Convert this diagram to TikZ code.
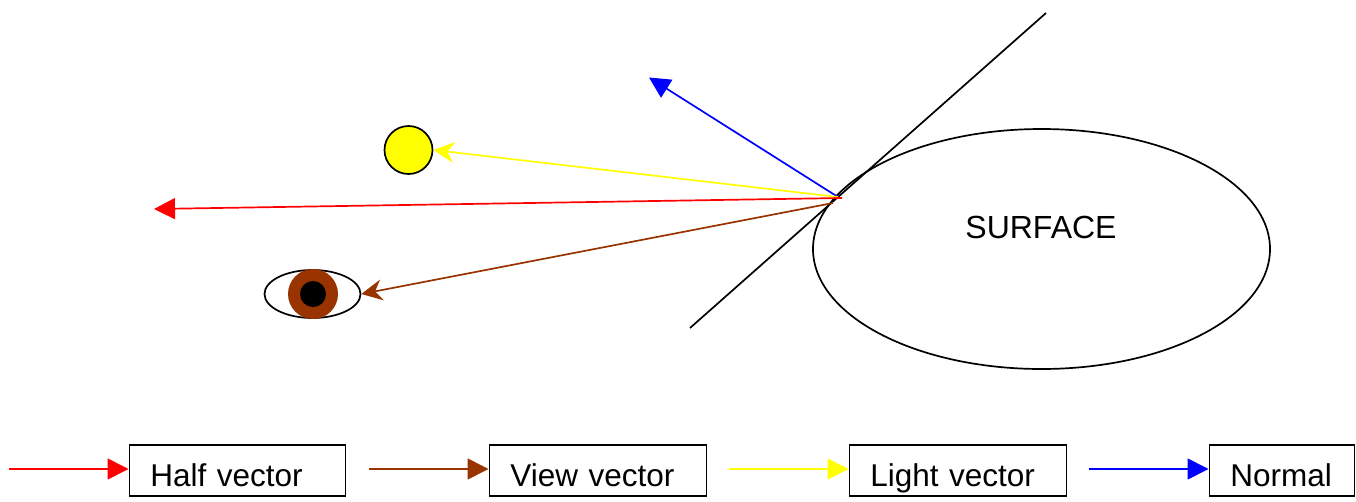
\documentclass[tikz,border=0pt]{standalone}
\usepackage{fontspec}
\setmainfont{Liberation Sans}
\usetikzlibrary{arrows.meta,shapes.geometric}
\definecolor{viewbrown}{RGB}{153,51,0}
\definecolor{pureyellow}{RGB}{255,255,0}
\definecolor{purered}{RGB}{255,0,0}
\definecolor{pureblue}{RGB}{0,0,255}
\tikzset{
  shapeline/.style={draw=black,line width=1.7pt},
  vec/.style={line width=1.7pt},
  headfill/.style={-{Triangle[length=21pt,width=21pt]}},
  headopen/.style={-{Stealth[length=21pt,width=21pt,inset=7pt]}},
  legendbox/.style={shapeline,anchor=west,inner ysep=0pt,inner xsep=21pt,text height=41pt,text depth=10pt,
    text width=#1,align=left,font=\fontsize{31.5}{38}\selectfont},
  bodytext/.style={font=\fontsize{32}{38}\selectfont,inner sep=0pt}
}
\begin{document}
\begin{tikzpicture}[x=1pt,y=-1pt]
\useasboundingbox (0,0) rectangle (1356,501);
% surface
\node[ellipse,shapeline,minimum width=457pt,minimum height=240pt,inner sep=0pt] (surface) at (1041.5,249) {};
\node[bodytext,anchor=base] (surfacetext) at (1041,238) {SURFACE};
\coordinate (tanA) at (690,328);
\coordinate (tanB) at (1046,13);
\draw[shapeline] (tanA) -- (tanB);
% sun and eye
\node[circle,shapeline,fill=pureyellow,minimum size=48pt,inner sep=0pt] (sun) at (408.5,150) {};
\node[ellipse,shapeline,minimum width=96pt,minimum height=48pt,inner sep=0pt] (eye) at (312.5,294) {};
\node[circle,fill=viewbrown,minimum size=50pt,inner sep=0pt] (iris) at (313,294) {};
\node[circle,fill=black,minimum size=26pt,inner sep=0pt] (pupil) at (313,294) {};
% vectors
\coordinate (hitN) at (838,197);
\coordinate (hitL) at (838,197);
\coordinate (hitV) at (833,203);
\coordinate (hitH) at (842,198);
\coordinate (normalend) at (649,77.5);
\coordinate (halfend) at (154,209);
\draw[vec,pureblue,headfill] (hitN) -- (normalend);
\draw[vec,pureyellow,headopen] (hitL) -- (sun.east);
\draw[vec,viewbrown,headopen] (hitV) -- (eye.east);
\draw[vec,purered,headfill] (hitH) -- (halfend);
% legend
\node[legendbox=174pt] (lh) at (128.5,470.5) {Half vector};
\node[legendbox=175pt] (lv) at (488.5,470.5) {View vector};
\node[legendbox=175pt] (ll) at (848.5,470.5) {Light vector};
\node[legendbox=103pt] (ln) at (1208.5,470.5) {Normal};
\coordinate (sh) at (9,469);
\coordinate (sv) at (369,469);
\coordinate (sl) at (729,469);
\coordinate (sn) at (1089,469);
\draw[vec,purered,headfill] (sh) -- (sh -| lh.west);
\draw[vec,viewbrown,headfill] (sv) -- (sv -| lv.west);
\draw[vec,pureyellow,headfill] (sl) -- (sl -| ll.west);
\draw[vec,pureblue,headfill] (sn) -- (sn -| ln.west);
\end{tikzpicture}
\end{document}
